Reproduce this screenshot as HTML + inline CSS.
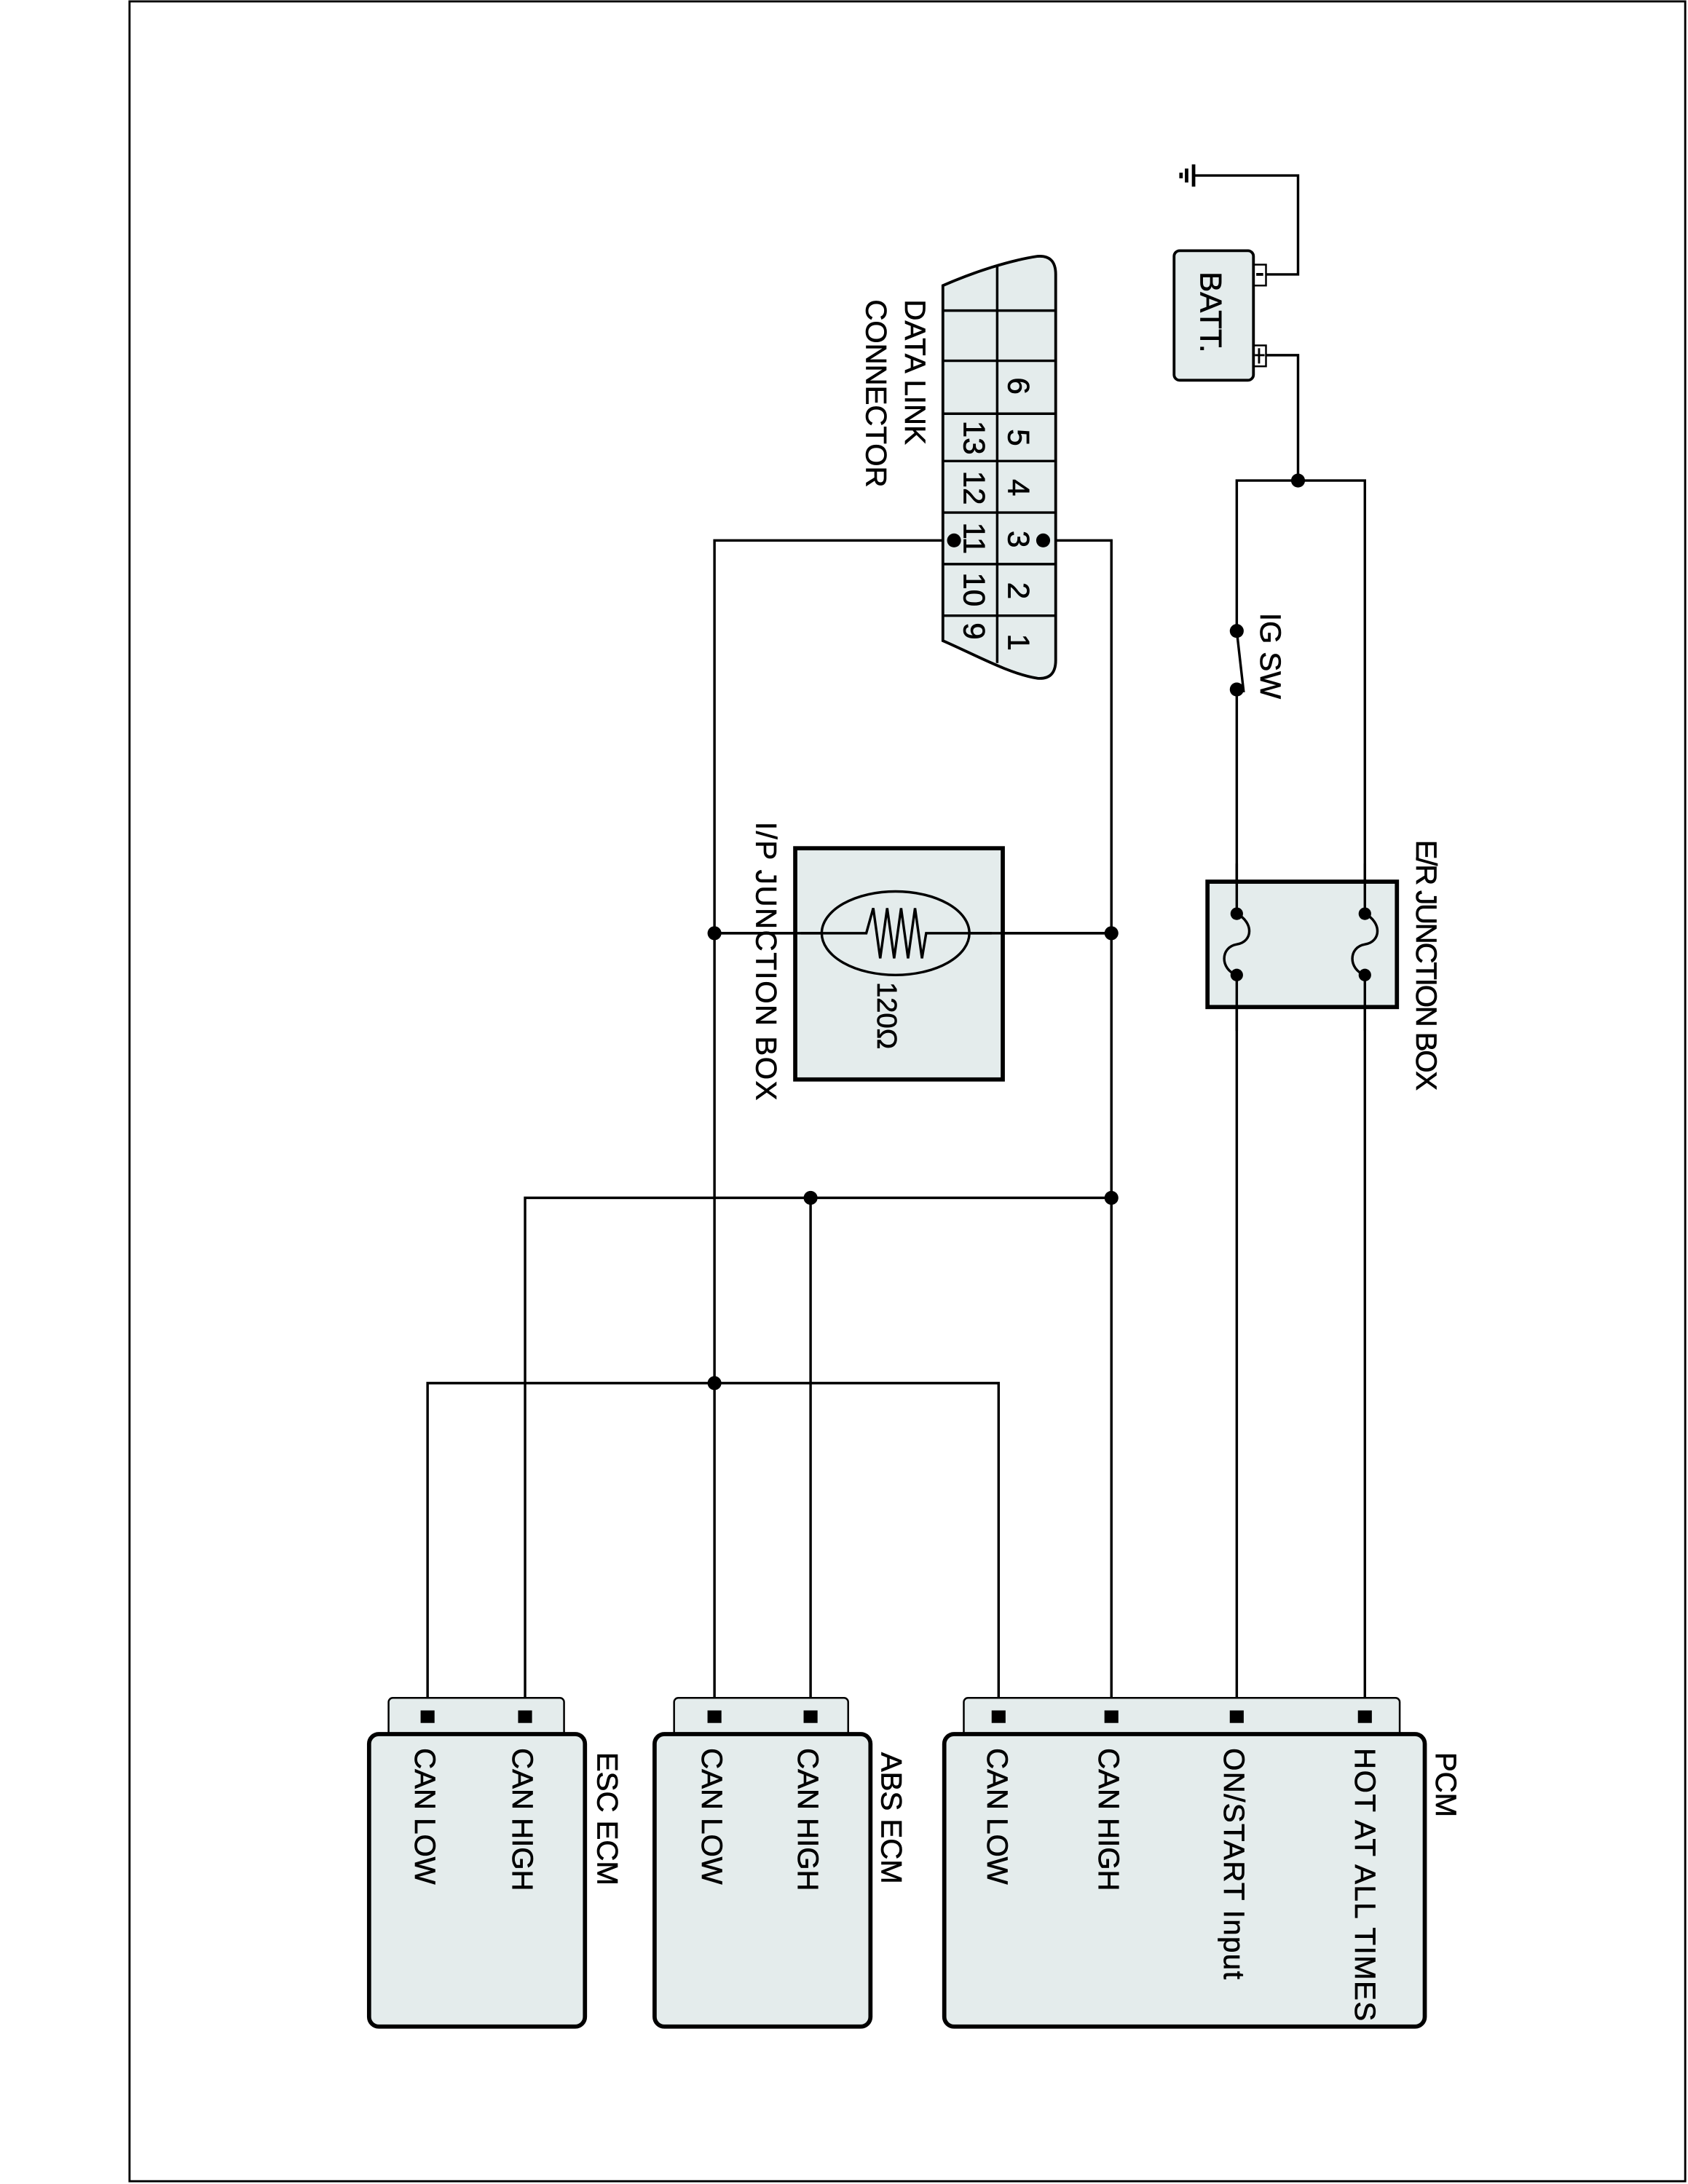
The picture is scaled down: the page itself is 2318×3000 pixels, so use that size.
<!DOCTYPE html>
<html><head><meta charset="utf-8"><style>
html,body{margin:0;padding:0;background:#fff}
svg{display:block}
text{font-family:"Liberation Sans",sans-serif;fill:#000;stroke:#000;stroke-width:0.35}
</style></head><body>
<svg width="2318" height="3000" viewBox="0 0 1212 1568" preserveAspectRatio="none" xmlns="http://www.w3.org/2000/svg">
<rect x="93" y="1" width="1117" height="1565" fill="none" stroke="#000" stroke-width="1.5"/>
<g stroke="#000" fill="none" stroke-width="1.8">
<line x1="857" y1="118" x2="857" y2="134" stroke-width="2.5"/>
<line x1="852" y1="121" x2="852" y2="131" stroke-width="2.5"/>
<line x1="848" y1="124" x2="848" y2="128" stroke-width="2.5"/>
<polyline points="857,126 932,126 932,197 908,197"/>
<polyline points="908,255 932,255 932,345"/>
<polyline points="888,453 888,345 980,345 980,1232"/>
<line x1="888" y1="453" x2="893" y2="497"/>
<line x1="888" y1="495" x2="888" y2="1232"/>
<polyline points="749,388 798,388 798,1232"/>
<polyline points="685,388 513,388 513,1232"/>
<line x1="513" y1="670" x2="798" y2="670"/>
<polyline points="377,1232 377,860 798,860"/>
<line x1="582" y1="860" x2="582" y2="1232"/>
<polyline points="307,1232 307,993 717,993 717,1232"/>
</g>
<rect x="900" y="190" width="9" height="15" fill="#fff" stroke="#000" stroke-width="1.3"/>
<rect x="900" y="248" width="9" height="15" fill="#fff" stroke="#000" stroke-width="1.3"/>
<line x1="902" y1="197" x2="907" y2="197" stroke="#000" stroke-width="2"/>
<line x1="901" y1="255" x2="908" y2="255" stroke="#000" stroke-width="1.5"/>
<line x1="904" y1="250" x2="904" y2="261" stroke="#000" stroke-width="1.5"/>
<rect x="843" y="180" width="57" height="93" rx="4" fill="#e4ecec" stroke="#000" stroke-width="2"/>
<text transform="translate(862,195) rotate(90)" font-size="22">BATT.</text>
<g fill="#000">
<circle cx="932" cy="345" r="5"/>
<circle cx="888" cy="453" r="5"/>
<circle cx="888" cy="495" r="5"/>
<circle cx="798" cy="670" r="5"/>
<circle cx="513" cy="670" r="5"/>
<circle cx="798" cy="860" r="5"/>
<circle cx="582" cy="860" r="5"/>
<circle cx="513" cy="993" r="5"/>
</g>
<text transform="translate(905,440) rotate(90)" font-size="21">IG SW</text>
<rect x="867" y="633" width="136" height="90" fill="#e4ecec" stroke="#000" stroke-width="3"/>
<g stroke="#000" stroke-width="1.8" fill="none">
<line x1="888" y1="620" x2="888" y2="656"/><line x1="888" y1="700" x2="888" y2="740"/>
<line x1="980" y1="620" x2="980" y2="656"/><line x1="980" y1="700" x2="980" y2="740"/>
<path d="M888,656 C900,662 900,676 888,678 C876,680 876,696 888,700"/>
<path d="M980,656 C992,662 992,676 980,678 C968,680 968,696 980,700"/>
</g>
<g fill="#000"><circle cx="888" cy="656" r="4.5"/><circle cx="888" cy="700" r="4.5"/><circle cx="980" cy="656" r="4.5"/><circle cx="980" cy="700" r="4.5"/></g>
<text transform="translate(1017,603) rotate(90)" font-size="21" textLength="180">E/R JUNCTION BOX</text>
<rect x="571" y="609" width="149" height="166" fill="#e4ecec" stroke="#000" stroke-width="3"/>
<line x1="513" y1="670" x2="798" y2="670" stroke="#000" stroke-width="1.8"/>
<ellipse cx="643" cy="670" rx="53" ry="30" fill="#e4ecec" stroke="#000" stroke-width="1.8"/>
<polyline points="575,670 622,670 627,652 632,688 637,652 642,688 647,652 652,688 657,652 662,688 665,670 712,670" fill="none" stroke="#000" stroke-width="1.8"/>
<text transform="translate(630,705) rotate(90)" font-size="20">120Ω</text>
<text transform="translate(543,590) rotate(90)" font-size="21" textLength="200">I/P JUNCTION BOX</text>
<path d="M677,205 L677,460 C700,470 725,484 745,487 Q758,488 758,474 L758,197 Q758,183 745,184 C725,187 700,195 677,205 Z" fill="#e4ecec" stroke="#000" stroke-width="2"/>
<g stroke="#000" stroke-width="1.8">
<line x1="716" y1="190" x2="716" y2="476"/>
<line x1="677" y1="223" x2="758" y2="223"/>
<line x1="677" y1="259" x2="758" y2="259"/>
<line x1="677" y1="297" x2="758" y2="297"/>
<line x1="677" y1="331" x2="758" y2="331"/>
<line x1="677" y1="368" x2="758" y2="368"/>
<line x1="677" y1="405" x2="758" y2="405"/>
<line x1="677" y1="442" x2="758" y2="442"/>
</g>
<g font-size="22">
<text transform="translate(724,271) rotate(90)">6</text>
<text transform="translate(724,308) rotate(90)">5</text>
<text transform="translate(724,344) rotate(90)">4</text>
<text transform="translate(724,381) rotate(90)">3</text>
<text transform="translate(724,418) rotate(90)">2</text>
<text transform="translate(724,455) rotate(90)">1</text>
<text transform="translate(692,302) rotate(90)">13</text>
<text transform="translate(692,338) rotate(90)">12</text>
<text transform="translate(692,375) rotate(90)">11</text>
<text transform="translate(692,411) rotate(90)">10</text>
<text transform="translate(692,447) rotate(90)">9</text>
</g>
<circle cx="749" cy="388" r="5" fill="#000"/>
<circle cx="685" cy="388" r="5" fill="#000"/>
<text transform="translate(650,215) rotate(90)" font-size="21">DATA LINK</text>
<text transform="translate(622,215) rotate(90)" font-size="21">CONNECTOR</text>
<rect x="692" y="1219" width="313" height="28" rx="3" fill="#e4ecec" stroke="#000" stroke-width="1.3"/>
<rect x="678" y="1245" width="345" height="210" rx="7" fill="#e4ecec" stroke="#000" stroke-width="3"/>
<g fill="#000">
<rect x="712" y="1228" width="10" height="9"/><rect x="793" y="1228" width="10" height="9"/>
<rect x="883" y="1228" width="10" height="9"/><rect x="975" y="1228" width="10" height="9"/>
</g>
<text transform="translate(1031,1258) rotate(90)" font-size="21">PCM</text>
<text transform="translate(973,1255) rotate(90)" font-size="21" textLength="196">HOT AT ALL TIMES</text>
<text transform="translate(879,1255) rotate(90)" font-size="21" textLength="166">ON/START Input</text>
<text transform="translate(789,1255) rotate(90)" font-size="21">CAN HIGH</text>
<text transform="translate(709,1255) rotate(90)" font-size="21">CAN LOW</text>
<rect x="484" y="1219" width="125" height="28" rx="3" fill="#e4ecec" stroke="#000" stroke-width="1.3"/>
<rect x="470" y="1245" width="155" height="210" rx="7" fill="#e4ecec" stroke="#000" stroke-width="3"/>
<g fill="#000"><rect x="508" y="1228" width="10" height="9"/><rect x="577" y="1228" width="10" height="9"/></g>
<text transform="translate(633,1258) rotate(90)" font-size="21">ABS ECM</text>
<text transform="translate(573,1255) rotate(90)" font-size="21">CAN HIGH</text>
<text transform="translate(504,1255) rotate(90)" font-size="21">CAN LOW</text>
<rect x="279" y="1219" width="126" height="28" rx="3" fill="#e4ecec" stroke="#000" stroke-width="1.3"/>
<rect x="265" y="1245" width="155" height="210" rx="7" fill="#e4ecec" stroke="#000" stroke-width="3"/>
<g fill="#000"><rect x="302" y="1228" width="10" height="9"/><rect x="372" y="1228" width="10" height="9"/></g>
<text transform="translate(429,1258) rotate(90)" font-size="21">ESC ECM</text>
<text transform="translate(368,1255) rotate(90)" font-size="21">CAN HIGH</text>
<text transform="translate(298,1255) rotate(90)" font-size="21">CAN LOW</text>
</svg>
</body></html>
